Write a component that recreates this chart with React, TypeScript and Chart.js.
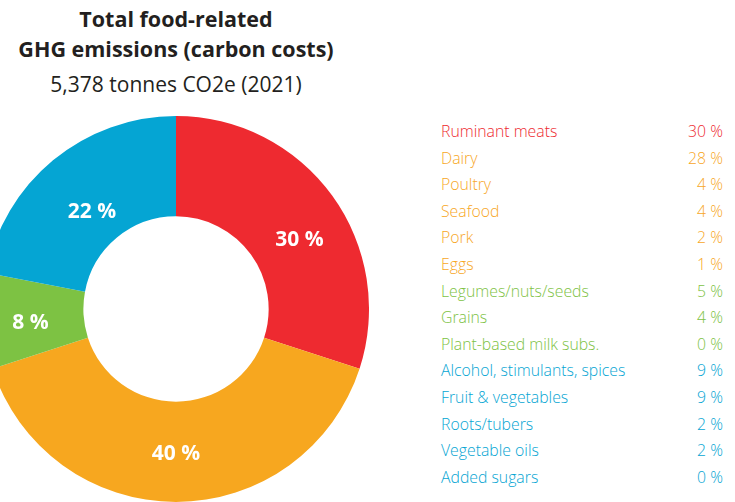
import React, { useEffect, useRef } from "react";
import { Chart, registerables } from "chart.js";

Chart.register(...registerables);

// Donut groups
const groupLabels = ["Ruminant meats", "Other animal products", "Plant proteins", "Other plant foods"];
const groupValues = [30, 40, 8, 22];
const groupColors = ["#EE2A30", "#F7A71F", "#7DC243", "#05A5D3"];

// Breakdown list
const itemLabels = [
  "Ruminant meats",
  "Dairy",
  "Poultry",
  "Seafood",
  "Pork",
  "Eggs",
  "Legumes/nuts/seeds",
  "Grains",
  "Plant-based milk subs.",
  "Alcohol, stimulants, spices",
  "Fruit & vegetables",
  "Roots/tubers",
  "Vegetable oils",
  "Added sugars",
];
const itemValues = [30, 28, 4, 4, 2, 1, 5, 4, 0, 9, 9, 2, 2, 0];
const itemGroup = [0, 1, 1, 1, 1, 1, 2, 2, 2, 3, 3, 3, 3, 3];

const titleLines = ["Total food-related", "GHG emissions (carbon costs)"];
const subtitle = "5,378 tonnes CO2e (2021)";

// label nudges (px) relative to arc centroid
const labelNudge = [
  [8, 15],
  [0, 2],
  [-3, 5],
  [7, 13],
];

const FONT = "'Open Sans', 'Noto Sans', sans-serif";

const labelPlugin = {
  id: "sliceLabels",
  afterDatasetsDraw(chart: any) {
    const ctx = chart.ctx;
    const meta = chart.getDatasetMeta(0);
    ctx.save();
    ctx.fillStyle = "#ffffff";
    ctx.font = `bold 21px ${FONT}`;
    ctx.textAlign = "center";
    ctx.textBaseline = "middle";
    meta.data.forEach((arc: any, i: number) => {
      const p = arc.tooltipPosition(false);
      const n = labelNudge[i] || [0, 0];
      ctx.fillText(`${groupValues[i]} %`, p.x + n[0], p.y + n[1]);
    });
    ctx.restore();
  },
};

export default function App() {
  const ref = useRef<HTMLCanvasElement>(null);
  useEffect(() => {
    if (!ref.current) return;
    const chart = new Chart(ref.current, {
      type: "doughnut",
      data: {
        labels: groupLabels,
        datasets: [
          {
            data: groupValues,
            backgroundColor: groupColors,
            borderWidth: 0,
          },
        ],
      },
      options: {
        responsive: false,
        animation: false,
        cutout: "48%",
        layout: { padding: 0 },
        plugins: { legend: { display: false }, tooltip: { enabled: false } },
      },
      plugins: [labelPlugin],
    });
    return () => chart.destroy();
  }, []);

  return (
    <div
      style={{
        position: "absolute",
        left: 0,
        top: 0,
        width: 735,
        height: 502,
        overflow: "hidden",
        background: "#fff",
        fontFamily: FONT,
      }}
    >
      <canvas
        ref={ref}
        width={386}
        height={386}
        style={{ position: "absolute", left: -17, top: 116, width: 386, height: 386 }}
      />
      <div
        style={{
          position: "absolute",
          left: 0,
          width: 352,
          top: 4,
          textAlign: "center",
          color: "#231F20",
        }}
      >
        {titleLines.map((t, i) => (
          <div key={i} style={{ fontWeight: 700, fontSize: 21.5, lineHeight: "30px" }}>
            {t}
          </div>
        ))}
        <div style={{ fontWeight: 400, fontSize: 21, lineHeight: "30px", marginTop: 5 }}>{subtitle}</div>
      </div>
      {itemLabels.map((lab, i) => (
        <div
          key={lab}
          style={{
            position: "absolute",
            left: 441,
            width: 282,
            top: 131 + i * 26.6 - 11,
            height: 22,
            lineHeight: "22px",
            fontSize: 15.8,
            fontWeight: 300,
            color: groupColors[itemGroup[i]],
            display: "flex",
            justifyContent: "space-between",
            whiteSpace: "nowrap",
          }}
        >
          <span>{lab}</span>
          <span>{itemValues[i]} %</span>
        </div>
      ))}
    </div>
  );
}
